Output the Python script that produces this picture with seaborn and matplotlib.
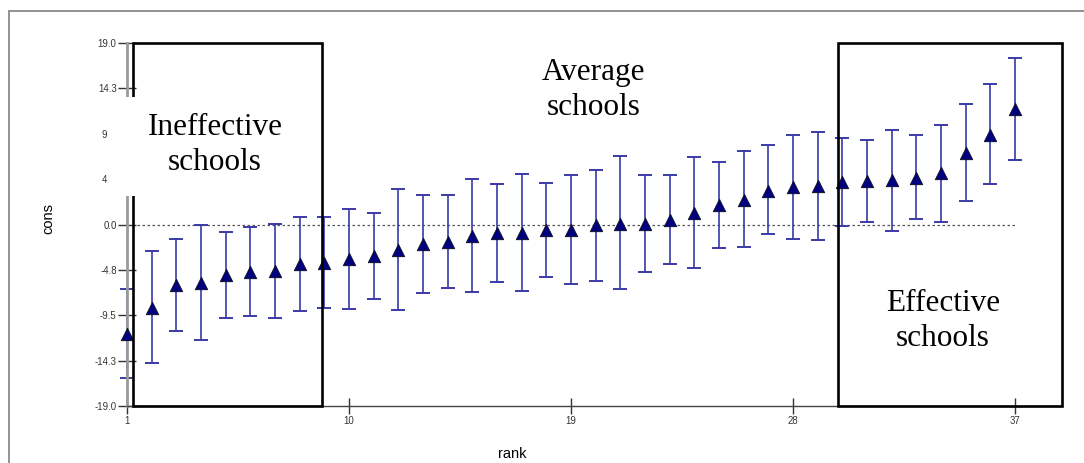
import numpy as np
import pandas as pd
import matplotlib
matplotlib.use("Agg")
import matplotlib.pyplot as plt
import seaborn as sns
from matplotlib.patches import Rectangle
from matplotlib.lines import Line2D

# ---------------- data ----------------
ranks = list(range(1, 38))
estimates = [-11.5, -8.7, -6.35, -6.1, -5.25, -5.0, -4.9, -4.15, -4.0, -3.6,
             -3.3, -2.65, -2.05, -1.8, -1.17, -0.87, -0.88, -0.6, -0.55, -0.1,
             0.05, 0.08, 0.45, 1.2, 2.0, 2.6, 3.55, 3.9, 4.05, 4.43,
             4.55, 4.62, 4.92, 5.35, 7.5, 9.4, 12.1]
lower = [-16.1, -14.5, -11.15, -12.1, -9.75, -9.55, -9.75, -9.05, -8.75, -8.8,
         -7.75, -9.0, -7.2, -6.65, -7.05, -6.0, -7.0, -5.5, -6.2, -5.9,
         -6.8, -5.0, -4.15, -4.6, -2.45, -2.35, -0.95, -1.55, -1.6, -0.2,
         0.3, -0.65, 0.55, 0.3, 2.5, 4.2, 6.8]
upper = [-6.7, -2.8, -1.55, -0.07, -0.75, -0.3, 0.03, 0.8, 0.8, 1.65,
         1.2, 3.7, 3.1, 3.1, 4.8, 4.25, 5.25, 4.35, 5.2, 5.7,
         7.15, 5.2, 5.2, 7.05, 6.5, 7.65, 8.3, 9.4, 9.7, 9.05,
         8.8, 9.85, 9.35, 10.4, 12.65, 14.7, 17.45]
x_ticks = [1, 10, 19, 28, 37]
y_ticks = [-19.0, -14.3, -9.5, -4.8, 0.0, 4.8, 9.5, 14.3, 19.0]
y_tick_labels = ["-19.0", "-14.3", "-9.5", "-4.8", "0.0", "4", "9", "14.3", "19.0"]
group_labels = ["Ineffective\nschools", "Average\nschools", "Effective\nschools"]
# rank spans of the framed groups (data units)
ineffective_span = (1.26, 8.9)
effective_span = (29.8, 38.9)

# ---------------- style ----------------
sns.set_style("white")
plt.rcParams["font.family"] = ["Liberation Sans", "DejaVu Sans"]

W, H = 1084, 463
fig = plt.figure(figsize=(W / 100, H / 100), dpi=100)


def fx(px):
    return px / W


def fy(py):
    return 1 - py / H


ax = fig.add_axes([fx(127), fy(406), (1062 - 127) / W, (406 - 43) / H])

df = pd.DataFrame({"rank": ranks, "cons": estimates, "lo": lower, "hi": upper})
yerr = np.vstack([df["cons"] - df["lo"], df["hi"] - df["cons"]])

ax.hlines(0, ranks[0], ranks[-1], colors="#555555", linestyles=(0, (2, 2)),
          lw=0.9, zorder=1)
eb = ax.errorbar(df["rank"], df["cons"], yerr=yerr, fmt="none", ecolor="#3a3aa8",
                 elinewidth=1.2, capsize=4.7, capthick=1.4, zorder=2)
for art in eb.lines[1] + eb.lines[2]:
    art.set_clip_on(False)
sns.scatterplot(data=df, x="rank", y="cons", marker="^", s=78, color="#000080",
                edgecolor="#10102a", linewidth=0.7, ax=ax, zorder=3, legend=False,
                clip_on=False)

ax.set_xlim(1, 38.9)
ax.set_ylim(-19, 19)
ax.set_xticks(x_ticks)
ax.set_xticklabels([str(t) for t in x_ticks])
ax.set_yticks(y_ticks)
ax.set_yticklabels(y_tick_labels)

ax.tick_params(axis="x", bottom=True, direction="inout", length=11, width=1,
               color="#333333", labelsize=6.9, labelcolor="#333333", pad=2)
ax.tick_params(axis="y", left=True, direction="inout", length=13, width=1,
               color="#333333", labelsize=6.9, labelcolor="#333333", pad=1)
for i, lab in enumerate(y_tick_labels):
    if lab in ("4", "9"):
        ax.yaxis.get_major_ticks()[i].set_pad(8)

for s in ("top", "right"):
    ax.spines[s].set_visible(False)
ax.spines["left"].set_color("#9a9a9a")
ax.spines["left"].set_linewidth(2)
ax.spines["bottom"].set_color("#444444")
ax.spines["bottom"].set_linewidth(1)

ax.set_xlabel("rank", fontsize=10.5, color="black")
ax.set_ylabel("cons", fontsize=10.5, color="black")
ax.xaxis.set_label_coords((512 - 127) / 935, (406 - 447) / 363)
ax.yaxis.set_label_coords((55 - 127) / 935, (406 - 218) / 363)

# group frames
for x0, x1 in (ineffective_span, effective_span):
    ax.add_patch(Rectangle((x0, -19), x1 - x0, 38, fill=False, ec="black",
                           lw=1.9, clip_on=False, zorder=4))

# white text box over the left frame / axis
fig.patches.append(Rectangle((fx(108), fy(196)), (321 - 108) / W, (196 - 97) / H,
                             transform=fig.transFigure, fc="white", ec="none",
                             zorder=2))

# outer frame lines
fig.add_artist(Line2D([fx(9), fx(9)], [0, fy(11)], color="#8a8a8a", lw=1.3))
fig.add_artist(Line2D([fx(9), 1], [fy(11), fy(11)], color="#8a8a8a", lw=1.3))

serif = ["Liberation Serif", "DejaVu Serif"]
for lab, (px, py) in zip(group_labels, [(215, 145), (594, 90), (943, 321)]):
    fig.text(fx(px), fy(py), lab, ha="center", va="center", fontsize=22.5,
             family=serif, linespacing=1.27, color="black", zorder=5)

fig.savefig("out.png", dpi=100)
